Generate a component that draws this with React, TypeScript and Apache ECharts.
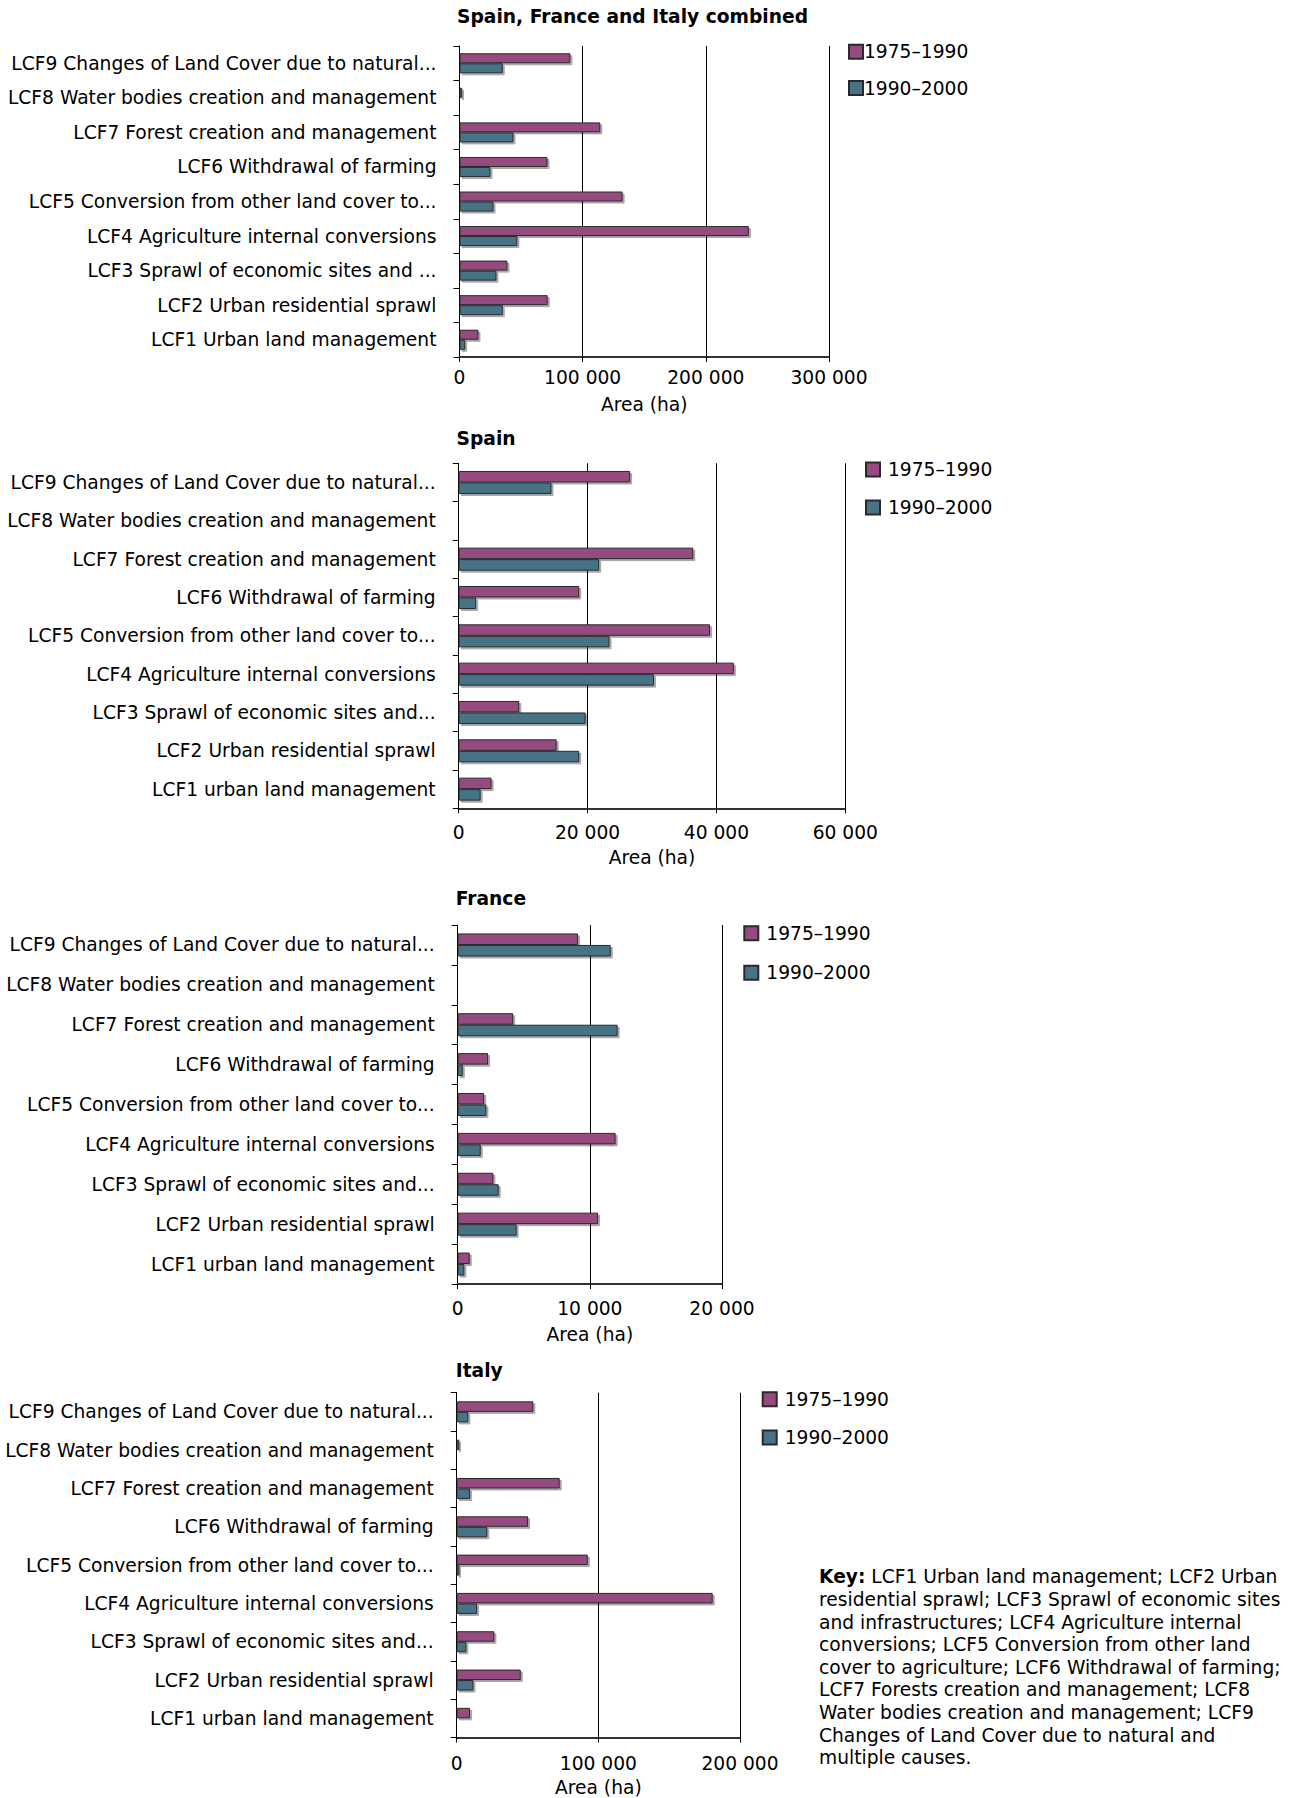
import React, { useEffect, useRef } from "react";
import * as echarts from "echarts";

const categoriesCombined = [
  "LCF1 Urban land management",
  "LCF2 Urban residential sprawl",
  "LCF3 Sprawl of economic sites and ...",
  "LCF4 Agriculture internal conversions",
  "LCF5 Conversion from other land cover to...",
  "LCF6 Withdrawal of farming",
  "LCF7 Forest creation and management",
  "LCF8 Water bodies creation and management",
  "LCF9 Changes of Land Cover due to natural...",
];
const categoriesCountry = [
  "LCF1 urban land management",
  "LCF2 Urban residential sprawl",
  "LCF3 Sprawl of economic sites and...",
  "LCF4 Agriculture internal conversions",
  "LCF5 Conversion from other land cover to...",
  "LCF6 Withdrawal of farming",
  "LCF7 Forest creation and management",
  "LCF8 Water bodies creation and management",
  "LCF9 Changes of Land Cover due to natural...",
];

const seriesNames = ["1975–1990", "1990–2000"];
const chartTitles = ["Spain, France and Italy combined", "Spain", "France", "Italy"];

const combined1975 = [15400, 71600, 38900, 234900, 132400, 71400, 114300, 2200, 90000];
const combined1990 = [4600, 35100, 30000, 47000, 27600, 25100, 43800, 0, 35100];
const spain1975 = [5100, 15200, 9400, 42700, 39000, 18700, 36400, 0, 26600];
const spain1990 = [3400, 18700, 19700, 30300, 23400, 2700, 21800, 0, 14400];
const france1975 = [910, 10620, 2700, 11950, 2000, 2300, 4200, 0, 9100];
const france1990 = [500, 4460, 3100, 1740, 2170, 380, 12100, 0, 11580];
const italy1975 = [9400, 45200, 26600, 180700, 92500, 50400, 72700, 1900, 54100];
const italy1990 = [0, 11800, 6800, 14400, 1900, 21600, 9400, 0, 8200];

const axisMax = [300000, 60000, 20000, 200000];
const axisInterval = [100000, 20000, 10000, 100000];

const keyLines = [
  "{b|Key:} LCF1 Urban land management; LCF2 Urban",
  "residential sprawl; LCF3 Sprawl of economic sites",
  "and infrastructures; LCF4 Agriculture internal",
  "conversions; LCF5 Conversion from other land",
  "cover to agriculture; LCF6 Withdrawal of farming;",
  "LCF7 Forests creation and management; LCF8",
  "Water bodies creation and management; LCF9",
  "Changes of Land Cover due to natural and",
  "multiple causes.",
];

const FONT = "DejaVu Sans, Verdana, sans-serif";
const FS = 18.67;
const COLORS = ["#964B80", "#467386"];

// layout (pixels)
const grids = [
  { left: 459.5, top: 46, width: 369.5, height: 311 },
  { left: 458.7, top: 463.3, width: 386.6, height: 345 },
  { left: 457.7, top: 925, width: 264.3, height: 359 },
  { left: 456.7, top: 1392.7, width: 283.3, height: 350.3 },
];
const titlePos = [
  { left: 457, top: 7 },
  { left: 456.5, top: 429 },
  { left: 455.7, top: 889 },
  { left: 455.7, top: 1361 },
];
const legendPos = [
  { left: 848, top: 42.3, gap: 17.2, pad: -4 },
  { left: 865, top: 460, gap: 19, pad: 3 },
  { left: 743.3, top: 923.8, gap: 20.5, pad: 3 },
  { left: 761.7, top: 1389.8, gap: 19.3, pad: 3 },
];
const xLabelMargin = [11, 14.5, 15, 16.5];
const xNameGap = [37.5, 39.5, 41, 40.5];
const barWidths = [10, 11.5, 11.5, 10.5];

function fmt(v: number) {
  return String(v).replace(/\B(?=(\d{3})+(?!\d))/g, " ");
}

export default function App() {
  const ref = useRef<HTMLDivElement>(null);
  useEffect(() => {
    if (!ref.current) return;
    const chart = echarts.init(ref.current, null, { renderer: "svg" });
    const cats = [categoriesCombined, categoriesCountry, categoriesCountry, categoriesCountry];
    const data = [
      [combined1975, combined1990],
      [spain1975, spain1990],
      [france1975, france1990],
      [italy1975, italy1990],
    ];
    const series: any[] = [];
    data.forEach((pair, gi) => {
      pair.forEach((vals, si) => {
        series.push({
          type: "bar",
          name: seriesNames[si],
          xAxisIndex: gi,
          yAxisIndex: gi,
          data: vals,
          barWidth: barWidths[gi],
          barGap: "0%",
          itemStyle: {
            color: COLORS[si],
            borderColor: "#2a2a2a",
            borderWidth: 1,
            shadowColor: "rgba(0,0,0,0.35)",
            shadowOffsetX: 2,
            shadowOffsetY: 2,
            shadowBlur: 0,
          },
        });
      });
    });
    chart.setOption({
      animation: false,
      backgroundColor: "#fff",
      textStyle: { fontFamily: FONT },
      title: chartTitles.map((t, i) => ({
        text: t,
        left: titlePos[i].left,
        top: titlePos[i].top,
        padding: 0,
        textStyle: { fontFamily: FONT, fontSize: FS, fontWeight: "bold", color: "#000" },
      })),
      legend: legendPos.map((p) => ({
        orient: "vertical",
        left: p.left,
        top: p.top,
        itemWidth: 14,
        itemHeight: 14,
        itemGap: p.gap,
        padding: 0,
        icon: "rect",
        selectedMode: false,
        data: seriesNames,
        textStyle: {
          fontFamily: FONT,
          fontSize: FS,
          color: "#000",
          padding: [0, 0, 0, p.pad],
        },
      })),
      grid: grids.map((g) => ({ ...g, containLabel: false })),
      xAxis: grids.map((_, i) => ({
        type: "value",
        gridIndex: i,
        min: 0,
        max: axisMax[i],
        interval: axisInterval[i],
        name: "Area (ha)",
        nameLocation: "middle",
        nameGap: xNameGap[i],
        nameTextStyle: { fontFamily: FONT, fontSize: FS, color: "#000" },
        axisLine: { show: true, lineStyle: { color: "#333", width: 2 } },
        axisTick: { show: true, length: 5, lineStyle: { color: "#000" } },
        splitLine: { show: true, lineStyle: { color: "#000", width: 1 } },
        axisLabel: {
          fontFamily: FONT,
          fontSize: FS,
          color: "#000",
          margin: xLabelMargin[i],
          formatter: (v: number) => fmt(v),
        },
      })),
      yAxis: grids.map((_, i) => ({
        type: "category",
        gridIndex: i,
        data: cats[i],
        axisLine: { show: true, lineStyle: { color: "#000", width: 1 } },
        axisTick: { show: true, length: 6, lineStyle: { color: "#000" } },
        axisLabel: { fontFamily: FONT, fontSize: FS, color: "#000", margin: 23 },
      })),
      graphic: [
        {
          type: "text",
          x: 819,
          y: 1565.7,
          style: {
            text: keyLines.join("\n"),
            fontFamily: FONT,
            fontSize: FS,
            lineHeight: 22.6,
            fill: "#000",
            rich: {
              b: { fontFamily: FONT, fontSize: FS, fontWeight: "bold", lineHeight: 22.6 },
            },
          },
        },
      ],
      series,
    });
    return () => chart.dispose();
  }, []);
  return (
    <div
      ref={ref}
      style={{ position: "absolute", left: 0, top: 0, width: 1298, height: 1798 }}
    />
  );
}
